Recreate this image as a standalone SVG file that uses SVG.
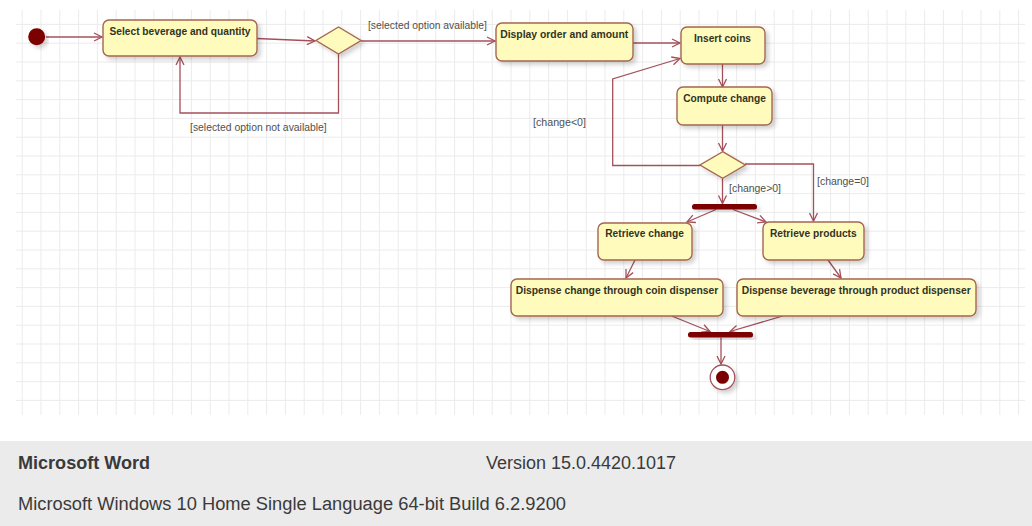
<svg xmlns="http://www.w3.org/2000/svg" width="1032" height="526" viewBox="0 0 1032 526">
  <defs>
    <pattern id="grid" patternUnits="userSpaceOnUse" x="21.7" y="23.9" width="18.8" height="18.8">
      <path d="M0.5,0 V18.8 M0,0.5 H18.8" fill="none" stroke="#ebebeb" stroke-width="1"/>
    </pattern>
    <filter id="sh" x="-20%" y="-20%" width="140%" height="160%">
      <feDropShadow dx="3" dy="3" stdDeviation="2" flood-color="#000" flood-opacity="0.18"/>
    </filter>
    <marker id="arr" markerUnits="userSpaceOnUse" markerWidth="12" markerHeight="12" refX="9" refY="5" orient="auto">
      <path d="M1,1 L9,5 L1,9" fill="none" stroke="#a4505a" stroke-width="1.3"/>
    </marker>
  </defs>
  <style>
    .box{fill:#fffbbd;stroke:#a5664f;stroke-width:1.4;filter:url(#sh)}
    .t{font-family:"Liberation Sans",Arial,sans-serif;font-size:10px;font-weight:bold;fill:#33331f;text-anchor:middle}
    .lbl{font-family:"Liberation Sans",Arial,sans-serif;font-size:10.3px;fill:#505050}
    .c{fill:none;stroke:#a4505a;stroke-width:1.3;marker-end:url(#arr)}
    .bar{fill:#7d0000;filter:url(#sh)}
    .foot{font-family:"Liberation Sans",Arial,sans-serif;font-size:18px;fill:#3a3a3a}
  </style>
  <rect width="1032" height="526" fill="#ffffff"/>
  <rect x="16" y="10" width="1009" height="405" fill="url(#grid)"/>

  <g id="connectors">
    <path class="c" d="M46,37 L102,37"/>
    <path class="c" d="M257,38.5 L315,41"/>
    <path class="c" d="M338.5,54 V113 H180 V57"/>
    <path class="c" d="M361,41 L495,41"/>
    <path class="c" d="M633,43 L680,43"/>
    <path class="c" d="M700,165.5 H612.7 V79 L680,58.5"/>
    <path class="c" d="M722.5,64 V87"/>
    <path class="c" d="M722.5,125 V151"/>
    <path class="c" d="M745,164 H813.5 V221"/>
    <path class="c" d="M722.5,178.3 V203.5"/>
    <path class="c" d="M716,209.5 L687,222"/>
    <path class="c" d="M733,209.5 L766,222"/>
    <path class="c" d="M635,260 L626,278"/>
    <path class="c" d="M828,260 L841,278"/>
    <path class="c" d="M671.7,316 L710,331.5"/>
    <path class="c" d="M782.7,316 L730,331.5"/>
    <path class="c" d="M721,337.5 V364"/>
    <text class="lbl" x="190" y="131" textLength="136.7" lengthAdjust="spacingAndGlyphs">[selected option not available]</text>
    <text class="lbl" x="368" y="29" textLength="119" lengthAdjust="spacingAndGlyphs">[selected option available]</text>
    <text class="lbl" x="533" y="126" textLength="53" lengthAdjust="spacingAndGlyphs">[change&lt;0]</text>
    <text class="lbl" x="729" y="192" textLength="52" lengthAdjust="spacingAndGlyphs">[change&gt;0]</text>
    <text class="lbl" x="817" y="185" textLength="52" lengthAdjust="spacingAndGlyphs">[change=0]</text>
  </g>

  <g id="start"><circle cx="36.7" cy="36.7" r="8.5" fill="#7d0000" filter="url(#sh)"/></g>
  <g id="select"><rect class="box" x="103" y="20" width="154" height="36" rx="6"/><text class="t" x="180" y="35.3" textLength="141" lengthAdjust="spacingAndGlyphs">Select beverage and quantity</text></g>
  <g id="decision1"><polygon class="box" points="338.5,27 361,40.5 338.5,54 316,40.5"/></g>
  <g id="display"><rect class="box" x="496" y="23" width="137" height="38" rx="6"/><text class="t" x="564.2" y="38" textLength="128" lengthAdjust="spacingAndGlyphs">Display order and amount</text></g>
  <g id="insert"><rect class="box" x="681" y="27" width="84" height="37" rx="6"/><text class="t" x="722.5" y="42" textLength="57" lengthAdjust="spacingAndGlyphs">Insert coins</text></g>
  <g id="compute"><rect class="box" x="677" y="87" width="95" height="38" rx="6"/><text class="t" x="724.6" y="102" textLength="82.7" lengthAdjust="spacingAndGlyphs">Compute change</text></g>
  <g id="decision2"><polygon class="box" points="722.7,151.7 745.3,165 722.7,178.3 700,165"/></g>
  <g id="fork"><rect class="bar" x="692" y="204" width="65" height="5.5" rx="2.5"/></g>
  <g id="retrieveChange"><rect class="box" x="598" y="223" width="94" height="37" rx="6"/><text class="t" x="644.6" y="237" textLength="78.7" lengthAdjust="spacingAndGlyphs">Retrieve change</text></g>
  <g id="retrieveProducts"><rect class="box" x="763" y="222" width="101" height="38" rx="6"/><text class="t" x="813.3" y="237" textLength="86.7" lengthAdjust="spacingAndGlyphs">Retrieve products</text></g>
  <g id="dispenseChange"><rect class="box" x="511" y="279" width="212" height="37" rx="6"/><text class="t" x="617" y="294" textLength="202.6" lengthAdjust="spacingAndGlyphs">Dispense change through coin dispenser</text></g>
  <g id="dispenseBeverage"><rect class="box" x="737" y="279" width="239" height="37" rx="6"/><text class="t" x="856.2" y="294" textLength="229" lengthAdjust="spacingAndGlyphs">Dispense beverage through product dispenser</text></g>
  <g id="join"><rect class="bar" x="688" y="332" width="65" height="5.5" rx="2.5"/></g>
  <g id="end"><circle cx="722.5" cy="377.3" r="12.3" fill="#ffffff" stroke="#a4505a" stroke-width="1.3" filter="url(#sh)"/><circle cx="722.5" cy="377.3" r="6.5" fill="#7d0000"/></g>

  <g id="footer">
    <rect x="0" y="441" width="1032" height="85" fill="#ebebeb"/>
    <text class="foot" x="18" y="469" font-weight="bold" textLength="132" lengthAdjust="spacingAndGlyphs">Microsoft Word</text>
    <text class="foot" x="486" y="469" textLength="190" lengthAdjust="spacingAndGlyphs">Version 15.0.4420.1017</text>
    <text class="foot" x="18" y="510" textLength="548" lengthAdjust="spacingAndGlyphs">Microsoft Windows 10 Home Single Language 64-bit Build 6.2.9200</text>
  </g>
</svg>
